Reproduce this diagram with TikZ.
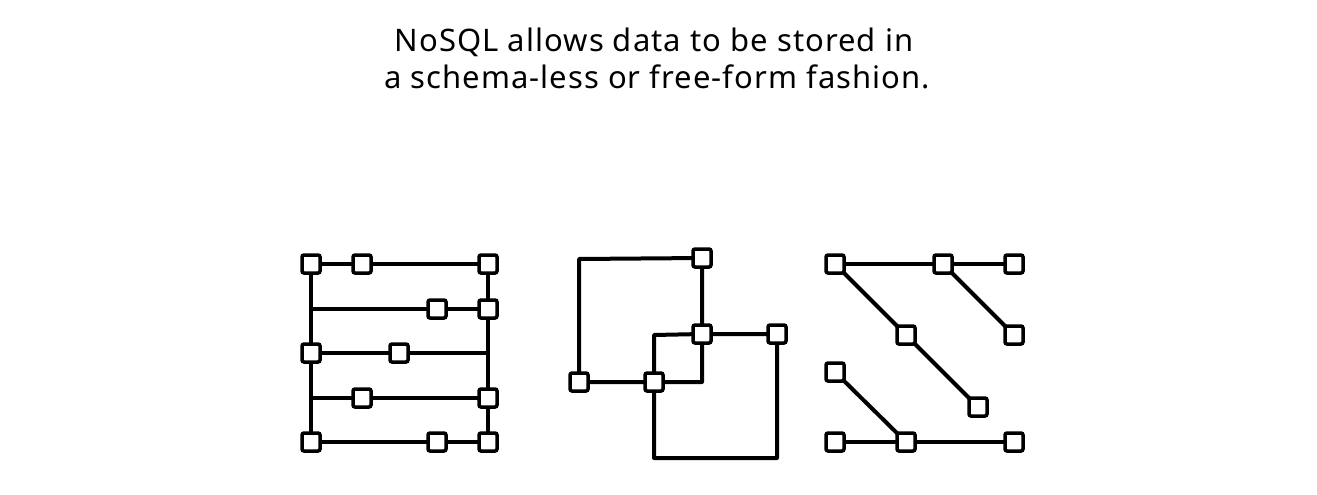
\documentclass[tikz,border=0pt]{standalone}
\usepackage{fontspec}
\setmainfont{Noto Sans}
\newfontfamily\titlefont[LetterSpace=3.4]{Noto Sans}
\usetikzlibrary{backgrounds}
\begin{document}
\begin{tikzpicture}[x=1pt,y=-1pt,
  sq/.style={rectangle, draw=black, fill=white, line width=3.5pt, rounded corners=2pt, minimum size=18pt, inner sep=0pt},
  ln/.style={draw=black, line width=4pt, line join=round},
  ttl/.style={anchor=base, inner sep=0pt, font=\titlefont\fontsize{31}{36}\selectfont, text=black}]
\useasboundingbox (0,0) rectangle (1317,495);
\node[ttl] (t1) at (654,52) {NoSQL allows data to be stored in};
\node[ttl] (t2) at (657,88.5) {a schema-less or free-form fashion.};
% figure 1
\node[sq] (a11) at (311,264) {};
\node[sq] (a12) at (362,264) {};
\node[sq] (a13) at (488,264) {};
\coordinate (a21) at (311,309);
\node[sq] (a22) at (437,309) {};
\node[sq] (a23) at (488,309) {};
\node[sq] (a31) at (311,353) {};
\node[sq] (a32) at (399,353) {};
\coordinate (a33) at (488,353);
\coordinate (a41) at (311,398);
\node[sq] (a42) at (362,398) {};
\node[sq] (a43) at (488,398) {};
\node[sq] (a51) at (311,442) {};
\node[sq] (a52) at (437,442) {};
\node[sq] (a53) at (488,442) {};
% figure 2
\node[sq] (b1) at (702,258) {};
\node[sq] (b2) at (702,334) {};
\node[sq] (b3) at (777,334) {};
\node[sq] (b4) at (579,382) {};
\node[sq] (b5) at (654,382) {};
\coordinate (bc1) at (579,259);
\coordinate (bc2) at (702,382);
\coordinate (bc3) at (654,335);
\coordinate (bc4) at (777,458);
\coordinate (bc5) at (654,458);
% figure 3
\node[sq] (c1) at (835,264) {};
\node[sq] (c2) at (943,264) {};
\node[sq] (c3) at (1014,264) {};
\node[sq] (c4) at (906,335) {};
\node[sq] (c5) at (1014,335) {};
\node[sq] (c6) at (835,372) {};
\node[sq] (c7) at (978,407) {};
\node[sq] (c8) at (835,442) {};
\node[sq] (c9) at (906,442) {};
\node[sq] (c10) at (1014,442) {};
\begin{scope}[on background layer]
  % figure 1
  \draw[ln] (a11.center) -- (a13.center);
  \draw[ln] (a21) -- (a23.center);
  \draw[ln] (a31.center) -- (a33);
  \draw[ln] (a41) -- (a43.center);
  \draw[ln] (a51.center) -- (a53.center);
  \draw[ln] (a11.center) -- (a51.center);
  \draw[ln] (a13.center) -- (a53.center);
  % figure 2
  \draw[ln] (b4.center) -- (bc1) -- (b1.center) -- (b2.center) -- (bc2) -- (b5.center) -- (b4.center);
  \draw[ln] (b5.center) -- (bc3) -- (b2.center) -- (b3.center) -- (bc4) -- (bc5) -- (b5.center);
  % figure 3
  \draw[ln] (c1.center) -- (c3.center);
  \draw[ln] (c1.center) -- (c4.center) -- (c7.center);
  \draw[ln] (c2.center) -- (c5.center);
  \draw[ln] (c6.center) -- (c9.center);
  \draw[ln] (c8.center) -- (c10.center);
\end{scope}
\end{tikzpicture}
\end{document}
